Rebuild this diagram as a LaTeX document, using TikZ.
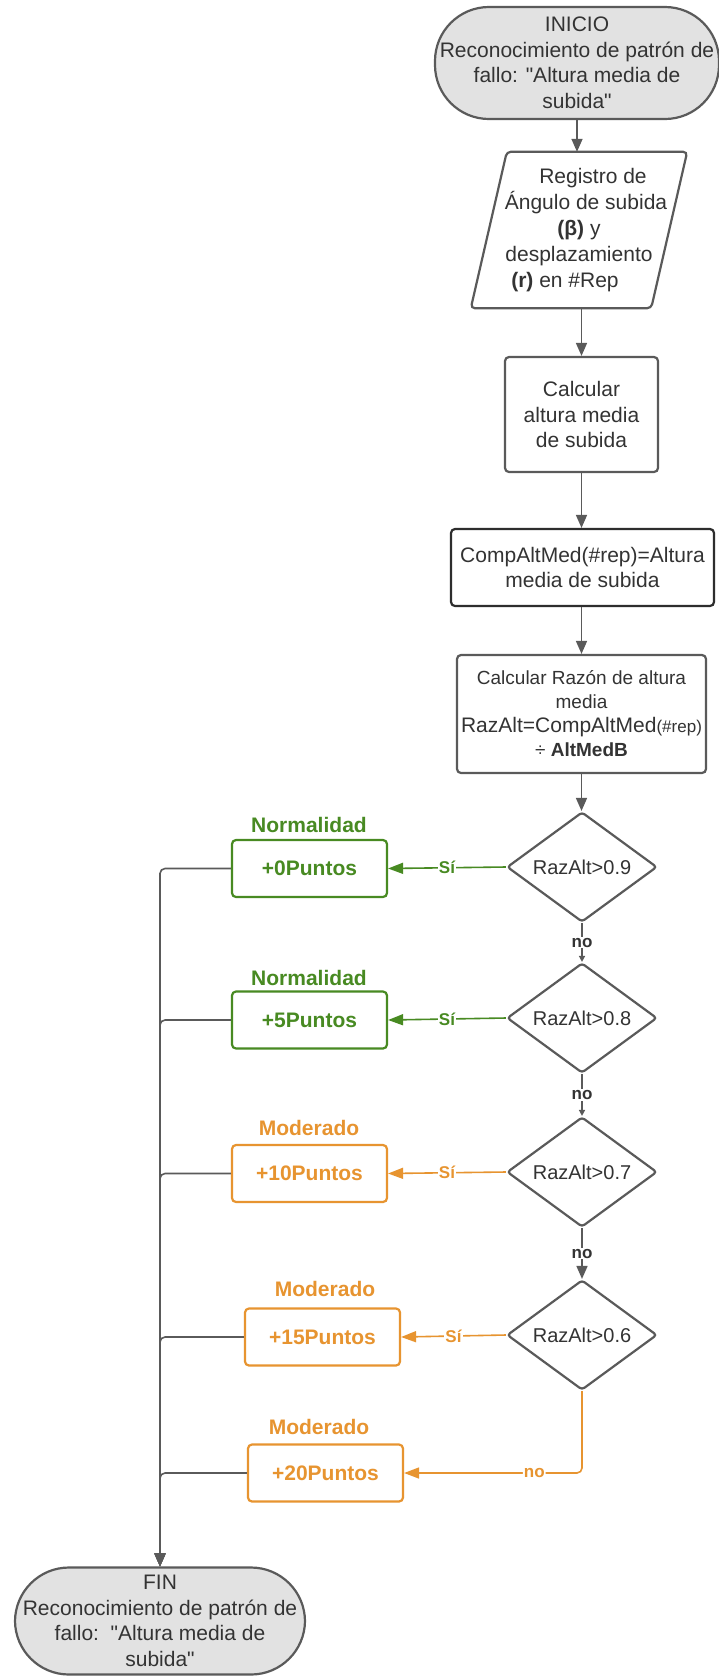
\documentclass[tikz,border=0pt]{standalone}
\usepackage{fontspec}
\setmainfont{Liberation Sans}[Ligatures=TeXOff]
\usetikzlibrary{shapes.geometric,arrows.meta}

\definecolor{lgray}{RGB}{90,90,90}
\definecolor{dgray}{RGB}{51,51,51}
\definecolor{edgedark}{RGB}{45,45,45}
\definecolor{tfill}{RGB}{226,226,226}
\definecolor{okgreen}{RGB}{72,138,34}
\definecolor{modorange}{RGB}{231,148,48}

\newcommand{\fsMain}{\fontsize{21}{25.5}\selectfont}
\newcommand{\fsLab}{\fontsize{17}{19}\selectfont}

\tikzset{
  procbox/.style={rectangle, draw=lgray, line width=2.2pt, rounded corners=4pt,
    text=dgray, align=center, font=\fsMain, inner sep=2pt},
  termbox/.style={procbox, fill=tfill, rounded corners=54pt},
  decbox/.style={diamond, draw=lgray, line width=2.2pt, rounded corners=3pt,
    aspect=1.36, minimum width=150pt, minimum height=110pt, inner sep=1pt,
    text=dgray, font=\fontsize{20}{24}\selectfont},
  greenbox/.style={rectangle, draw=okgreen, line width=2.2pt, rounded corners=4pt,
    text=okgreen, font=\fsMain\bfseries, minimum width=155pt, minimum height=57pt},
  orangebox/.style={greenbox, draw=modorange, text=modorange},
  catgreen/.style={text=okgreen, font=\fsMain\bfseries},
  catorange/.style={text=modorange, font=\fsMain\bfseries},
  grayconn/.style={line width=1.6pt, draw=lgray},
  greenconn/.style={line width=1.6pt, draw=okgreen,
    -{Triangle[length=15pt,width=11pt]}},
  orangeconn/.style={line width=1.6pt, draw=modorange,
    -{Triangle[length=15pt,width=11pt]}},
  bigtip/.style={-{Triangle[length=13pt,width=11pt]}},
  smalltip/.style={-{Triangle[length=6pt,width=6pt]}},
  nolab/.style={fill=white, inner sep=1pt, text=dgray, font=\fsLab\bfseries},
  yeslab/.style={fill=white, inner sep=1pt, font=\fsLab\bfseries},
}

\begin{document}
\begin{tikzpicture}[x=1pt,y=-1pt]
\fill[white] (0,0) rectangle (719,1676);
\useasboundingbox (0,0) rectangle (719,1676);

% main column
\node[termbox, minimum width=284pt, minimum height=112pt] (inicio) at (577,63)
  {INICIO\\Reconocimiento de patrón de\\fallo: "Altura media de\\subida"};

\node[align=center, text=dgray, font=\fontsize{21}{26}\selectfont,
      minimum width=216pt, minimum height=156pt, inner sep=0pt] (reg) at (579,230)
  {\hspace*{28pt}Registro de\\
   \hspace*{14pt}Ángulo de subida\\
   \textbf{(β)} y\hspace*{6pt}\\
   desplazamiento\hspace*{14pt}\\
   \textbf{(r)} en \#Rep\hspace*{28pt}};
\draw[line width=2.2pt, draw=lgray, rounded corners=4pt]
  ([xshift=36pt]reg.north west) -- (reg.north east)
  -- ([xshift=-36pt]reg.south east) -- (reg.south west) -- cycle;

\node[procbox, minimum width=153pt, minimum height=115pt] (calc) at (581.5,414.5)
  {Calcular\\altura media\\de subida};

\node[procbox, draw=edgedark, minimum width=263pt, minimum height=77pt,
      font=\fontsize{21}{25}\selectfont] (comp) at (582.5,567.5)
  {CompAltMed(\#rep)=Altura\\media de subida};

\node[procbox, minimum width=249pt, minimum height=118pt,
      font=\fontsize{19}{24}\selectfont] (razon) at (581.5,714)
  {Calcular Razón de altura\\media\\
   {\fontsize{21}{24}\selectfont RazAlt=CompAltMed}{\fontsize{17}{24}\selectfont(\#rep)}\\
   ÷ \textbf{AltMedB}};

% decisions
\node[decbox] (d1) at (582,867)  {RazAlt>0.9};
\node[decbox] (d2) at (582,1018) {RazAlt>0.8};
\node[decbox] (d3) at (582,1172) {RazAlt>0.7};
\node[decbox] (d4) at (582,1335) {RazAlt>0.6};

% scores
\node[greenbox]  (b0)  at (309.5,868.5)  {+0Puntos};
\node[greenbox]  (b5)  at (309.5,1020)   {+5Puntos};
\node[orangebox] (b10) at (309.5,1173.5) {+10Puntos};
\node[orangebox] (b15) at (322.5,1337)   {+15Puntos};
\node[orangebox] (b20) at (325.5,1473)   {+20Puntos};

\node[catgreen]  (c0)  at (309,825)  {Normalidad};
\node[catgreen]  (c5)  at (309,978)  {Normalidad};
\node[catorange] (c10) at (309,1128) {Moderado};
\node[catorange] (c15) at (325,1289) {Moderado};
\node[catorange] (c20) at (319,1427) {Moderado};

% end
\node[termbox, minimum width=290pt, minimum height=107pt] (fin) at (160,1621)
  {FIN\\Reconocimiento de patrón de\\fallo:\ \ "Altura media de\\subida"};

% main flow
\draw[grayconn, bigtip] (inicio.south) -- (inicio.south |- reg.north);
\draw[grayconn, bigtip] (calc.north |- reg.south) -- (calc.north);
\draw[grayconn, bigtip] (calc.south) -- (calc.south |- comp.north);
\draw[grayconn, bigtip] (razon.north |- comp.south) -- (razon.north);
\draw[grayconn, bigtip] (razon.south) -- (razon.south |- d1.north);

% "no" branches between decisions
\draw[grayconn, smalltip] (d1.south) -- node[nolab] {no} (d2.north);
\draw[grayconn, smalltip] (d2.south) -- node[nolab] {no} (d3.north);
\draw[grayconn, bigtip]   (d3.south) -- node[nolab] {no} (d4.north);

% "Sí" branches
\draw[greenconn]  (d1.west) -- node[yeslab, text=okgreen] {Sí} (b0.east);
\draw[greenconn]  (d2.west) -- node[yeslab, text=okgreen] {Sí} (b5.east);
\draw[orangeconn] (d3.west) -- node[yeslab, text=modorange] {Sí} (b10.east);
\draw[orangeconn] (d4.west) -- node[yeslab, text=modorange] {Sí} (b15.east);
\draw[orangeconn, rounded corners=5pt] (d4.south) |-
  node[pos=0.634, yeslab, text=modorange] {no} (b20.east);

% collection into the end node
\foreach \b in {b0,b5,b10,b15,b20}
  \draw[grayconn, bigtip, rounded corners=5pt] (\b.west) -| (fin.north);
\end{tikzpicture}
\end{document}
